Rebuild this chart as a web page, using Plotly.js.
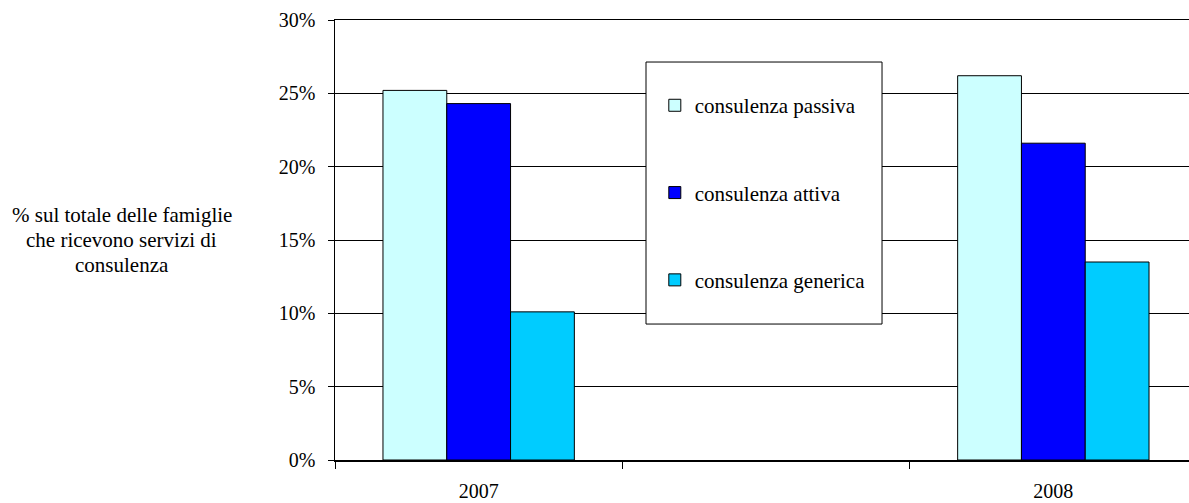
<!DOCTYPE html>
<html>
<head>
<meta charset="utf-8">
<script src="https://cdn.plot.ly/plotly-3.0.1.min.js"></script>
<style>
html, body { margin: 0; padding: 0; overflow: hidden; background: #fff; }
#chart { width: 1200px; height: 503px; }
</style>
</head>
<body>
<div id="chart"></div>
<script>
// Categories (middle slot is empty in the original chart, where the legend sits)
const categories = ['2007', ' ', '2008'];
const seriesNames = ['consulenza passiva', 'consulenza attiva', 'consulenza generica'];
const passiva = [25.2, null, 26.2];
const attiva = [24.3, null, 21.6];
const generica = [10.1, null, 13.5];
const seriesColors = ['#CCFFFF', '#0000FF', '#00CCFF'];
const yTickVals = [0, 5, 10, 15, 20, 25, 30];
const yTickText = ['0%', '5%', '10%', '15%', '20%', '25%', '30%'];
const yTitleLines = ['% sul totale delle famiglie', 'che ricevono servizi di', 'consulenza'];

const FONT = 'Liberation Serif, Times New Roman, Times, DejaVu Serif, Noto Serif, serif';
const seriesValues = [passiva, attiva, generica];

const traces = seriesValues.map((vals, i) => ({
  type: 'bar',
  name: seriesNames[i],
  x: categories,
  y: vals,
  legendgroup: 'g' + i,
  marker: { color: seriesColors[i], line: { color: '#000', width: 1 } },
  hoverinfo: 'x+y+name'
}));

const annotations = yTitleLines.map((t, i) => ({
  xref: 'paper', yref: 'paper',
  x: -0.2471, y: 0.5 + (1 - i) * 25 / 440,
  xanchor: 'center', yanchor: 'middle',
  text: t, showarrow: false,
  font: { family: FONT, size: 21, color: '#000' }
}));

const layout = {
  width: 1200, height: 503,
  margin: { l: 335, r: 3, t: 20, b: 43 },
  paper_bgcolor: '#fff', plot_bgcolor: '#fff',
  font: { family: FONT, size: 20, color: '#000' },
  barmode: 'group',
  bargap: 0.334,
  bargroupgap: 0,
  showlegend: true,
  legend: {
    x: 0.371, y: 0.852, xanchor: 'left', yanchor: 'top',
    bgcolor: 'rgba(0,0,0,0)', borderwidth: 0,
    traceorder: 'grouped', tracegroupgap: 57,
    font: { family: FONT, size: 21, color: '#000' }
  },
  xaxis: {
    type: 'category',
    categoryorder: 'array', categoryarray: categories,
    range: [-0.5, 2.5],
    showline: true, linecolor: '#000', linewidth: 1.5, mirror: true,
    ticks: 'outside', ticklen: 7, tickcolor: '#000', tickwidth: 1,
    tickson: 'boundaries',
    ticklabelstandoff: 12,
    showgrid: false,
    tickfont: { family: FONT, size: 20, color: '#000' }
  },
  yaxis: {
    range: [0, 30],
    tickvals: yTickVals, ticktext: yTickText,
    showline: true, linecolor: '#000', linewidth: 1.5, mirror: true,
    ticks: 'outside', ticklen: 6, tickcolor: '#000', tickwidth: 1,
    showgrid: true, gridcolor: '#000', gridwidth: 1,
    zeroline: false,
    ticklabelstandoff: 8,
    tickfont: { family: FONT, size: 20, color: '#000' }
  },
  shapes: [{
    type: 'rect', xref: 'paper', yref: 'paper',
    x0: 0.3608, x1: 0.6346, y0: 0.309, y1: 0.9045,
    fillcolor: '#fff', line: { color: '#000', width: 1 },
    layer: 'above'
  }],
  annotations: annotations
};

Plotly.newPlot('chart', traces, layout, { displayModeBar: false, staticPlot: true });
</script>
</body>
</html>
